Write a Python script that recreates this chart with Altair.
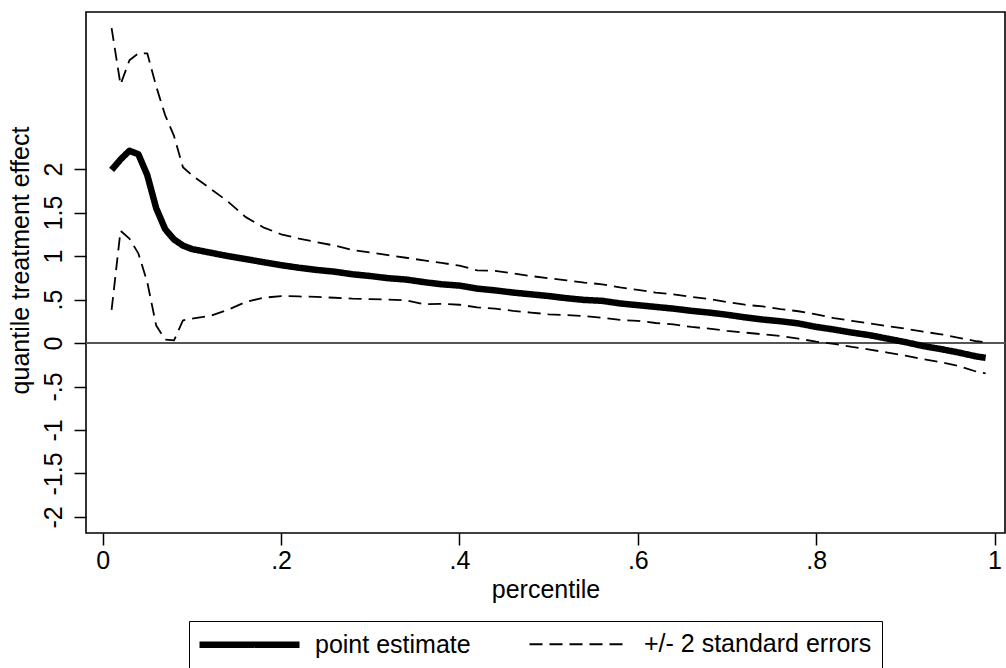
import altair as alt
import pandas as pd

# percentiles at which values were read
pct = [0.01, 0.02, 0.03, 0.04, 0.05, 0.06, 0.07, 0.08, 0.09, 0.10,
       0.12, 0.14, 0.16, 0.18, 0.20, 0.22, 0.24, 0.26, 0.28, 0.30,
       0.32, 0.34, 0.36, 0.38, 0.40, 0.42, 0.44, 0.46, 0.48, 0.50,
       0.52, 0.54, 0.56, 0.58, 0.60, 0.62, 0.64, 0.66, 0.68, 0.70,
       0.72, 0.74, 0.76, 0.78, 0.80, 0.82, 0.84, 0.86, 0.88, 0.90,
       0.92, 0.94, 0.96, 0.98, 0.99]

point_estimate = [1.99, 2.11, 2.21, 2.17, 1.93, 1.55, 1.31, 1.19, 1.12, 1.08,
                  1.04, 1.00, 0.965, 0.93, 0.895, 0.865, 0.84, 0.82, 0.79, 0.77,
                  0.745, 0.73, 0.70, 0.675, 0.66, 0.625, 0.605, 0.58, 0.56, 0.54,
                  0.515, 0.495, 0.485, 0.455, 0.435, 0.415, 0.395, 0.37, 0.35, 0.325,
                  0.295, 0.27, 0.25, 0.225, 0.185, 0.155, 0.12, 0.09, 0.05, 0.01,
                  -0.035, -0.07, -0.11, -0.155, -0.17]

upper = [3.62, 2.97, 3.25, 3.33, 3.33, 2.95, 2.62, 2.38, 2.02, 1.93,
         1.78, 1.63, 1.45, 1.33, 1.25, 1.20, 1.16, 1.12, 1.07, 1.04,
         1.01, 0.98, 0.95, 0.92, 0.89, 0.835, 0.83, 0.80, 0.77, 0.745,
         0.72, 0.695, 0.675, 0.64, 0.61, 0.58, 0.56, 0.53, 0.505, 0.47,
         0.44, 0.42, 0.39, 0.365, 0.33, 0.285, 0.255, 0.225, 0.195, 0.165,
         0.13, 0.10, 0.06, 0.02, 0.01]

lower = [0.38, 1.29, 1.20, 1.03, 0.70, 0.20, 0.04, 0.03, 0.26, 0.28,
         0.31, 0.38, 0.47, 0.52, 0.54, 0.535, 0.53, 0.52, 0.51, 0.505,
         0.50, 0.49, 0.445, 0.45, 0.44, 0.41, 0.395, 0.37, 0.35, 0.33,
         0.32, 0.31, 0.29, 0.265, 0.255, 0.23, 0.215, 0.185, 0.165, 0.14,
         0.12, 0.10, 0.08, 0.05, 0.015, -0.01, -0.045, -0.075, -0.11, -0.145,
         -0.185, -0.22, -0.265, -0.33, -0.35]

series_names = ["point estimate", "+/- 2 standard errors"]
x_ticks = [0, 0.2, 0.4, 0.6, 0.8, 1]
y_ticks = [-2, -1.5, -1, -0.5, 0, 0.5, 1, 1.5, 2]

rows = []
for name, part, vals in [(series_names[0], "pe", point_estimate),
                         (series_names[1], "up", upper),
                         (series_names[1], "lo", lower)]:
    for p, v in zip(pct, vals):
        rows.append({"p": p, "v": v, "series": name, "part": part})
df = pd.DataFrame(rows)

FONT = "Liberation Sans"
FS = 25

x_scale = alt.Scale(domain=[-0.0187, 1.0117], nice=False, zero=False)
y_scale = alt.Scale(domain=[-2.184, 3.805], nice=False, zero=False)

label_expr = "datum.value == 0 ? '0' : replace(toString(datum.value), '0.', '.')"

legend_def = alt.Legend(
    title=None, orient="none", legendX=103, legendY=609,
    direction="horizontal", symbolType="M-5,0H5", symbolSize=400,
    symbolOffset=37, symbolStrokeColor="black",
    labelFont=FONT, labelFontSize=FS,
    labelColor="black", labelLimit=0, labelOffset=52, columnPadding=54,
    padding=10, strokeColor="black", fillColor="white",
)

lines = alt.Chart(df).mark_line(color="black", strokeCap="butt", strokeJoin="round").encode(
    x=alt.X("p:Q", scale=x_scale,
            axis=alt.Axis(values=x_ticks, labelExpr=label_expr, title="percentile",
                          grid=False, domain=False, tickSize=12, tickWidth=1.5,
                          tickColor="black", labelPadding=3, titlePadding=4)),
    y=alt.Y("v:Q", scale=y_scale,
            axis=alt.Axis(values=y_ticks, labelExpr=label_expr,
                          title="quantile treatment effect", titleY=248,
                          grid=False, domain=False, tickSize=12, tickWidth=1.5,
                          tickColor="black", labelAngle=270, labelAlign="center",
                          labelBaseline="bottom", labelPadding=8, titlePadding=8)),
    detail="part:N",
    strokeDash=alt.StrokeDash("series:N",
                              scale=alt.Scale(domain=series_names, range=[[1, 0], [13, 7]]),
                              legend=legend_def),
    strokeWidth=alt.StrokeWidth("series:N",
                                scale=alt.Scale(domain=series_names, range=[6.5, 1.8]),
                                legend=legend_def),
)

zero = alt.Chart(df).mark_rule(color="#555555", strokeWidth=2).encode(
    y=alt.datum(0, scale=y_scale)
)

chart = alt.layer(zero, lines).properties(
    width=919, height=521,
    autosize=alt.AutoSizeParams(type="none"),
    padding={"left": 86, "top": 12, "right": 1, "bottom": 135},
    background="white",
).configure_view(
    stroke="black", strokeWidth=1.6
).configure_axis(
    labelFont=FONT, labelFontSize=FS, labelColor="black",
    titleFont=FONT, titleFontSize=FS, titleColor="black", titleFontWeight="normal",
)

chart.save("out.html", embed_options={"renderer": "svg", "actions": False})
